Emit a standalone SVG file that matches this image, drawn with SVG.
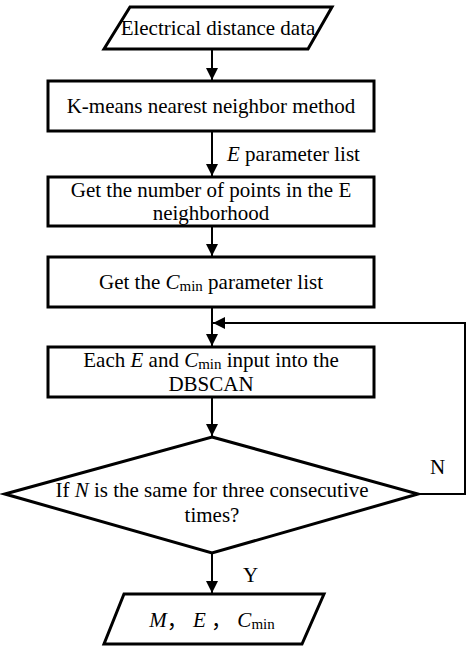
<svg xmlns="http://www.w3.org/2000/svg" width="474" height="651" viewBox="0 0 474 651">
<defs>
<marker id="ah" markerWidth="12" markerHeight="12" viewBox="0 0 12 12" refX="12" refY="6" orient="auto" markerUnits="userSpaceOnUse">
<path d="M0,0 L12,6 L0,12 Z" fill="#000"/>
</marker>
</defs>
<style>
.shape{fill:#fff;stroke:#000;stroke-width:3}
text{font-family:'Liberation Serif','Times New Roman',serif;font-size:21px;fill:#000}
.t{text-anchor:middle}
.sub{font-size:15px}
.cjk{font-family:'Noto Sans CJK SC',sans-serif}
.conn{fill:none;stroke:#000;stroke-width:2}
</style>
<rect width="474" height="651" fill="#fff"/>
<g id="connectors">
<line class="conn" x1="212" y1="49" x2="212" y2="80" marker-end="url(#ah)"/>
<line class="conn" x1="212" y1="131" x2="212" y2="176" marker-end="url(#ah)"/>
<line class="conn" x1="212" y1="226" x2="212" y2="256" marker-end="url(#ah)"/>
<line class="conn" x1="212" y1="307" x2="212" y2="346" marker-end="url(#ah)"/>
<polyline class="conn" points="418,494 465,494 465,323 213,323" marker-end="url(#ah)"/>
<line class="conn" x1="212" y1="397" x2="212" y2="436" marker-end="url(#ah)"/>
<line class="conn" x1="212" y1="553" x2="212" y2="593" marker-end="url(#ah)"/>
<text x="227" y="161"><tspan font-style="italic">E</tspan> parameter list</text>
<text x="430" y="474">N</text>
<text x="243" y="582">Y</text>
</g>
<g id="n1">
<polygon class="shape" points="130,7 332,7 308,49 104,49"/>
<text class="t" x="218" y="35">Electrical distance data</text>
</g>
<g id="n2">
<rect class="shape" x="48" y="81" width="326" height="50"/>
<text class="t" x="211" y="113">K-means nearest neighbor method</text>
</g>
<g id="n3">
<rect class="shape" x="48" y="177" width="326" height="49"/>
<text class="t" x="211" y="197">Get the number of points in the E</text>
<text class="t" x="211" y="220">neighborhood</text>
</g>
<g id="n4">
<rect class="shape" x="48" y="257" width="326" height="50"/>
<text class="t" x="211" y="289">Get the <tspan font-style="italic">C</tspan><tspan class="sub" dy="2">min</tspan><tspan dy="-2"> parameter list</tspan></text>
</g>
<g id="n5">
<rect class="shape" x="48" y="347" width="326" height="50"/>
<text class="t" x="211" y="367">Each <tspan font-style="italic">E</tspan> and <tspan font-style="italic">C</tspan><tspan class="sub" dy="2">min</tspan><tspan dy="-2"> input into the</tspan></text>
<text class="t" x="211" y="391">DBSCAN</text>
</g>
<g id="n6">
<polygon class="shape" points="212,437 418,494 212,553 5,494"/>
<text class="t" x="212" y="497">If <tspan font-style="italic">N</tspan> is the same for three consecutive</text>
<text class="t" x="212" y="522">times?</text>
</g>
<g id="n7">
<polygon class="shape" points="124,594 324,594 302,644 104,644"/>
<text class="t" x="212" y="627"><tspan font-style="italic">M</tspan><tspan class="cjk">，</tspan> <tspan font-style="italic">E</tspan> <tspan class="cjk">，</tspan> <tspan font-style="italic">C</tspan><tspan class="sub" dy="2">min</tspan></text>
</g>
</svg>
